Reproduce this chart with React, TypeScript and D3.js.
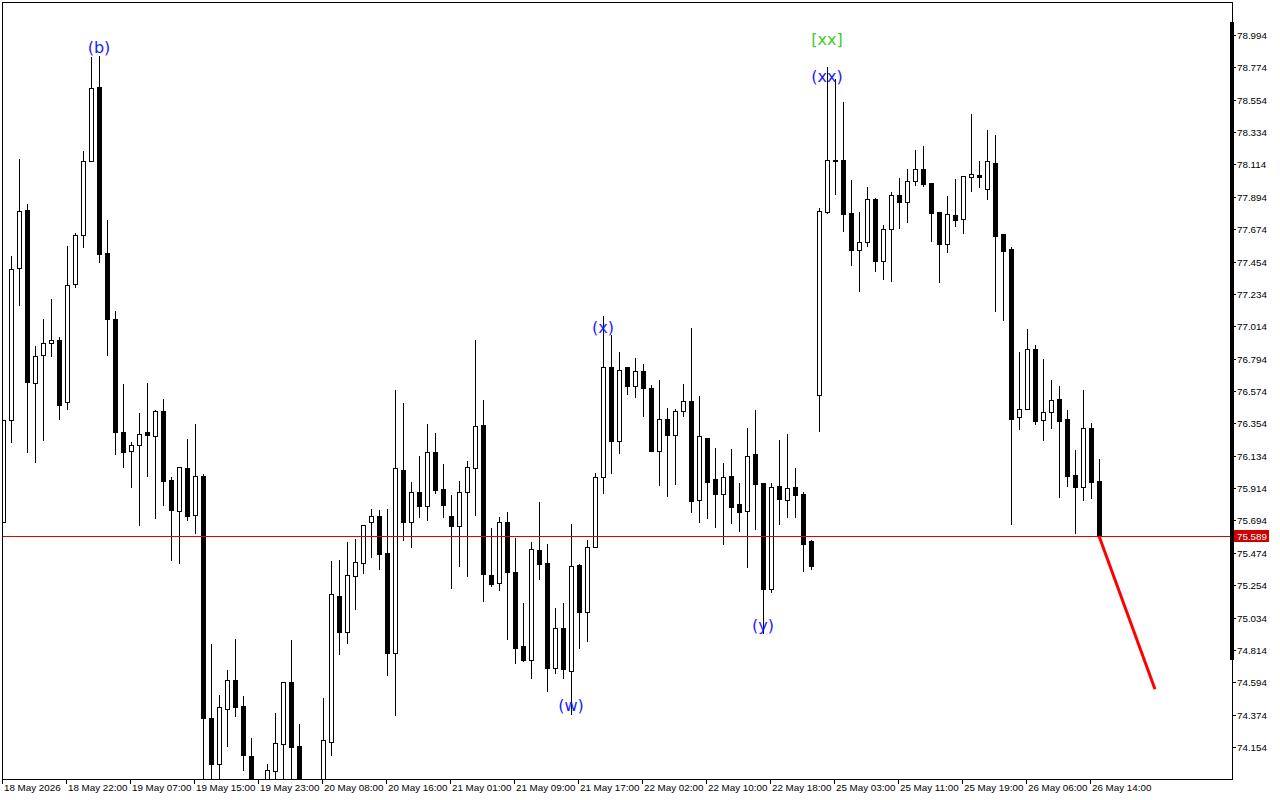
import { useMemo } from "react";
import * as d3 from "d3";

// hourly bars, oldest first
const opens = [
  75.682, 76.376, 77.41, 77.804, 76.628, 76.818, 76.9, 76.92, 76.498, 77.301,
  77.634, 78.137, 78.64, 77.512, 77.063, 76.294, 76.165, 76.206, 76.294, 76.267,
  76.437, 75.968, 75.757, 76.05, 75.73, 75.995, 74.35, 74.037, 74.411, 74.608,
  74.431, 74.091, 73.87, 73.88, 73.989, 74.173, 74.594, 74.159, 73.85, 73.82,
  73.88, 74.186, 75.179, 74.934, 75.315, 75.404, 75.682, 75.723, 75.472, 74.792,
  76.036, 75.682, 75.886, 75.791, 76.158, 75.907, 75.723, 75.655, 75.886, 76.05,
  76.342, 75.322, 75.268, 75.682, 75.342, 74.839, 74.744, 75.492, 75.404, 74.69,
  74.962, 74.669, 75.39, 75.07, 75.512, 75.988, 76.736, 76.233, 76.736, 76.607,
  76.709, 76.594, 76.165, 76.383, 76.274, 76.437, 76.505, 75.832, 76.254, 75.975,
  75.873, 75.995, 75.805, 75.757, 76.145, 75.948, 75.227, 75.927, 75.832, 75.92,
  75.873, 75.553, 76.546, 77.79, 78.144, 78.144, 77.784, 77.532, 77.586, 77.879,
  77.457, 77.675, 77.906, 77.858, 78.001, 78.083, 77.988, 77.79, 77.573, 77.77,
  77.743, 78.028, 78.042, 77.947, 78.124, 77.641, 77.539, 76.396, 76.451, 76.859,
  76.376, 76.43, 76.519, 76.383, 76.002, 75.92, 76.322, 75.961,
];
const highs = [
  76.376, 77.491, 78.151, 77.845, 76.879, 77.063, 77.199, 76.94, 77.559, 77.648,
  78.205, 78.844, 78.851, 77.736, 77.117, 76.621, 76.226, 76.424, 76.628, 76.444,
  76.519, 75.988, 76.056, 76.247, 76.349, 76.009, 74.853, 74.506, 74.676, 74.887,
  74.499, 74.214, 73.91, 74.037, 74.384, 74.594, 74.88, 74.309, 73.92, 73.91,
  74.486, 75.417, 75.424, 75.546, 75.567, 75.662, 75.771, 75.764, 75.771, 76.58,
  76.492, 75.954, 76.131, 76.349, 76.288, 76.077, 75.866, 75.961, 76.097, 76.92,
  76.512, 75.642, 75.716, 75.75, 75.574, 75.132, 75.546, 75.818, 75.533, 75.098,
  75.132, 75.669, 75.397, 75.56, 76.016, 77.083, 76.954, 76.838, 76.736, 76.798,
  76.757, 76.614, 76.648, 76.458, 76.451, 76.621, 77.002, 76.539, 76.254, 76.186,
  76.084, 76.179, 75.948, 76.322, 76.444, 75.948, 75.948, 76.24, 76.281, 76.05,
  75.886, 75.56, 77.818, 78.776, 78.695, 78.538, 78.008, 77.79, 77.96, 77.886,
  77.702, 77.926, 78.022, 78.083, 78.212, 78.239, 77.988, 77.79, 77.899, 78.015,
  78.035, 78.457, 78.137, 78.348, 78.314, 77.641, 77.552, 76.838, 76.995, 76.886,
  76.791, 76.648, 76.607, 76.444, 76.172, 76.58, 76.356, 76.111,
];
const lows = [
  75.682, 76.226, 77.158, 76.158, 76.09, 76.24, 76.811, 76.383, 76.451, 77.28,
  77.552, 78.137, 77.45, 76.818, 76.145, 76.056, 75.92, 75.662, 75.995, 75.71,
  75.798, 75.424, 75.404, 75.696, 75.608, 73.9, 73.88, 73.89, 74.159, 74.363,
  73.996, 73.84, 73.79, 73.85, 73.91, 73.88, 73.87, 73.8, 73.78, 73.77,
  73.85, 74.098, 74.785, 74.86, 75.091, 75.336, 75.444, 75.363, 74.642, 74.37,
  75.56, 75.512, 75.716, 75.696, 75.88, 75.716, 75.234, 75.383, 75.315, 75.73,
  75.145, 75.247, 75.22, 74.887, 74.724, 74.737, 74.622, 75.295, 74.533, 74.656,
  74.622, 74.377, 74.826, 74.873, 75.512, 75.88, 76.016, 76.152, 76.553, 76.532,
  76.403, 76.165, 75.934, 75.859, 75.941, 76.403, 75.75, 75.682, 75.71, 75.648,
  75.533, 75.676, 75.621, 75.376, 75.635, 74.928, 75.206, 75.669, 75.716, 75.716,
  75.349, 75.363, 76.301, 77.784, 77.913, 77.661, 77.43, 77.253, 77.559, 77.389,
  77.335, 77.321, 77.682, 77.722, 77.974, 77.967, 77.593, 77.314, 77.518, 77.695,
  77.648, 77.933, 77.96, 77.879, 77.117, 77.056, 75.669, 76.315, 76.451, 76.349,
  76.24, 76.322, 75.852, 75.927, 75.608, 75.832, 75.846, 75.589,
];
const closes = [
  76.376, 77.403, 77.797, 76.634, 76.811, 76.9, 76.92, 76.478, 77.294, 77.634,
  78.137, 78.634, 77.505, 77.063, 76.294, 76.158, 76.206, 76.281, 76.274, 76.437,
  75.961, 75.764, 76.056, 75.723, 75.995, 74.35, 74.037, 74.424, 74.608, 74.424,
  74.098, 73.87, 73.86, 73.996, 74.18, 74.594, 74.152, 73.85, 73.82, 73.88,
  74.2, 75.193, 74.934, 75.322, 75.41, 75.662, 75.723, 75.465, 74.792, 76.05,
  75.682, 75.886, 75.791, 76.158, 75.9, 75.798, 75.655, 75.886, 76.056, 76.335,
  75.329, 75.261, 75.682, 75.342, 74.826, 74.744, 75.499, 75.397, 74.69, 74.962,
  74.683, 75.383, 75.07, 75.512, 75.988, 76.736, 76.233, 76.716, 76.607, 76.709,
  76.594, 76.165, 76.383, 76.274, 76.437, 76.505, 75.825, 76.267, 75.954, 75.873,
  75.988, 75.784, 75.75, 76.131, 75.941, 75.227, 75.92, 75.839, 75.914, 75.866,
  75.533, 75.383, 77.797, 78.144, 78.137, 77.777, 77.532, 77.586, 77.879, 77.457,
  77.675, 77.906, 77.858, 78.001, 78.083, 77.981, 77.784, 77.573, 77.777, 77.736,
  78.035, 78.049, 78.028, 78.137, 77.627, 77.525, 76.383, 76.451, 76.859, 76.369,
  76.43, 76.512, 76.369, 75.995, 75.92, 76.322, 75.954, 75.589,
];

const timeLabels = [
  "18 May 2026", "18 May 22:00", "19 May 07:00", "19 May 15:00", "19 May 23:00",
  "20 May 08:00", "20 May 16:00", "21 May 01:00", "21 May 09:00", "21 May 17:00",
  "22 May 02:00", "22 May 10:00", "22 May 18:00", "25 May 03:00", "25 May 11:00",
  "25 May 19:00", "26 May 06:00", "26 May 14:00",
];
const priceTicks = [
  78.994, 78.774, 78.554, 78.334, 78.114, 77.894, 77.674, 77.454, 77.234, 77.014,
  76.794, 76.574, 76.354, 76.134, 75.914, 75.694, 75.474, 75.254, 75.034, 74.814,
  74.594, 74.374, 74.154,
];

const lastPrice = 75.589;
// projected move: bar index / price at start and end
const forecastBars = [137, 144];
const forecastPrices = [75.589, 74.547];

// wave labels anchored at a bar and a price (baseline)
const waveText = ["(b)", "[xx]", "(xx)", "(x)", "(w)", "(y)"];
const waveBar = [12, 103, 103, 75, 71, 95];
const wavePrice = [78.875, 78.929, 78.674, 76.968, 74.397, 74.941];
const waveColor = ["#1a1aff", "#3fcc2a", "#1a1aff", "#1a1aff", "#1a1aff", "#1a1aff"];

const W = 1280;
const H = 800;
const pane = { left: 2, top: 2, right: 1232, bottom: 779 };
const axisFont = "'Liberation Sans', Arial, sans-serif";

export default function App() {
  const x = useMemo(
    () => d3.scaleLinear().domain([0, 137]).range([3, 1099]),
    []
  );
  const y = useMemo(
    () => d3.scaleLinear().domain([74.154, 78.994]).range([747, 35]),
    []
  );

  const forecastLine = d3
    .line<number>()
    .x((_, i) => x(forecastBars[i]))
    .y((d) => y(d));

  const lastY = Math.round(y(lastPrice)) + 0.5;

  return (
    <div style={{ position: "absolute", left: 0, top: 0, width: W, height: H, background: "#fff" }}>
      <svg width={W} height={H} style={{ display: "block" }}>
        <defs>
          <clipPath id="pane">
            <rect
              x={pane.left}
              y={pane.top}
              width={pane.right - pane.left}
              height={pane.bottom - pane.top}
            />
          </clipPath>
        </defs>
        <rect width={W} height={H} fill="#fff" />

        <g clipPath="url(#pane)" shapeRendering="crispEdges">
          {opens.map((o, i) => {
            const cx = Math.round(x(i));
            const c = closes[i];
            const yo = Math.round(y(o));
            const yc = Math.round(y(c));
            const bull = c >= o;
            return (
              <g key={i}>
                <line
                  x1={cx + 0.5}
                  x2={cx + 0.5}
                  y1={Math.round(y(highs[i]))}
                  y2={Math.round(y(lows[i])) + 1}
                  stroke="#000"
                />
                {bull ? (
                  <rect
                    x={cx - 1.5}
                    y={yc + 0.5}
                    width={4}
                    height={Math.max(0, yo - yc)}
                    fill="#fff"
                    stroke="#000"
                  />
                ) : (
                  <rect
                    x={cx - 2}
                    y={yo}
                    width={5}
                    height={Math.max(1, yc - yo + 1)}
                    fill="#000"
                  />
                )}
              </g>
            );
          })}
          <line x1={pane.left} x2={pane.right} y1={lastY} y2={lastY} stroke="#e00000" />
        </g>

        <path
          d={forecastLine(forecastPrices) ?? ""}
          fill="none"
          stroke="#ff0000"
          strokeWidth={3}
        />

        {waveText.map((t, i) => (
          <text
            key={t + i}
            x={x(waveBar[i])}
            y={y(wavePrice[i])}
            textAnchor="middle"
            fontFamily="'DejaVu Sans', sans-serif"
            fontSize={16}
            fill={waveColor[i]}
          >
            {t}
          </text>
        ))}

        {/* frame */}
        <g shapeRendering="crispEdges" stroke="#000" fill="none">
          <line x1={pane.left + 0.5} x2={pane.left + 0.5} y1={pane.top} y2={pane.bottom + 1} />
          <line x1={pane.left} x2={pane.right + 1} y1={pane.top + 0.5} y2={pane.top + 0.5} />
          <line x1={pane.left} x2={pane.right + 1} y1={pane.bottom + 0.5} y2={pane.bottom + 0.5} />
          <line x1={pane.right + 0.5} x2={pane.right + 0.5} y1={pane.top} y2={pane.bottom + 1} />
        </g>
        <rect x={1230} y={22} width={4} height={638} fill="#000" />

        {/* price axis */}
        <g fontFamily={axisFont} fontSize={9.8} fill="#000">
          {priceTicks.map((p) => {
            const ty = Math.round(y(p)) + 0.5;
            return (
              <g key={p}>
                <line x1={1233} x2={1236} y1={ty} y2={ty} stroke="#000" shapeRendering="crispEdges" />
                <text x={1237} y={ty} dominantBaseline="central">
                  {p.toFixed(3)}
                </text>
              </g>
            );
          })}
          <rect x={1234} y={lastY - 6.5} width={35} height={12} fill="#cc0000" />
          <text x={1237} y={lastY} dominantBaseline="central" fill="#fff">
            {lastPrice.toFixed(3)}
          </text>
        </g>

        {/* time axis */}
        <g fontFamily={axisFont} fontSize={9.8} fill="#000">
          {timeLabels.map((t, k) => {
            const tx = Math.round(x(k * 8)) - 0.5;
            return (
              <g key={t}>
                <line x1={tx} x2={tx} y1={pane.bottom} y2={pane.bottom + 5} stroke="#000" shapeRendering="crispEdges" />
                <text x={tx + 1.5} y={791}>
                  {t}
                </text>
              </g>
            );
          })}
        </g>
      </svg>
    </div>
  );
}
